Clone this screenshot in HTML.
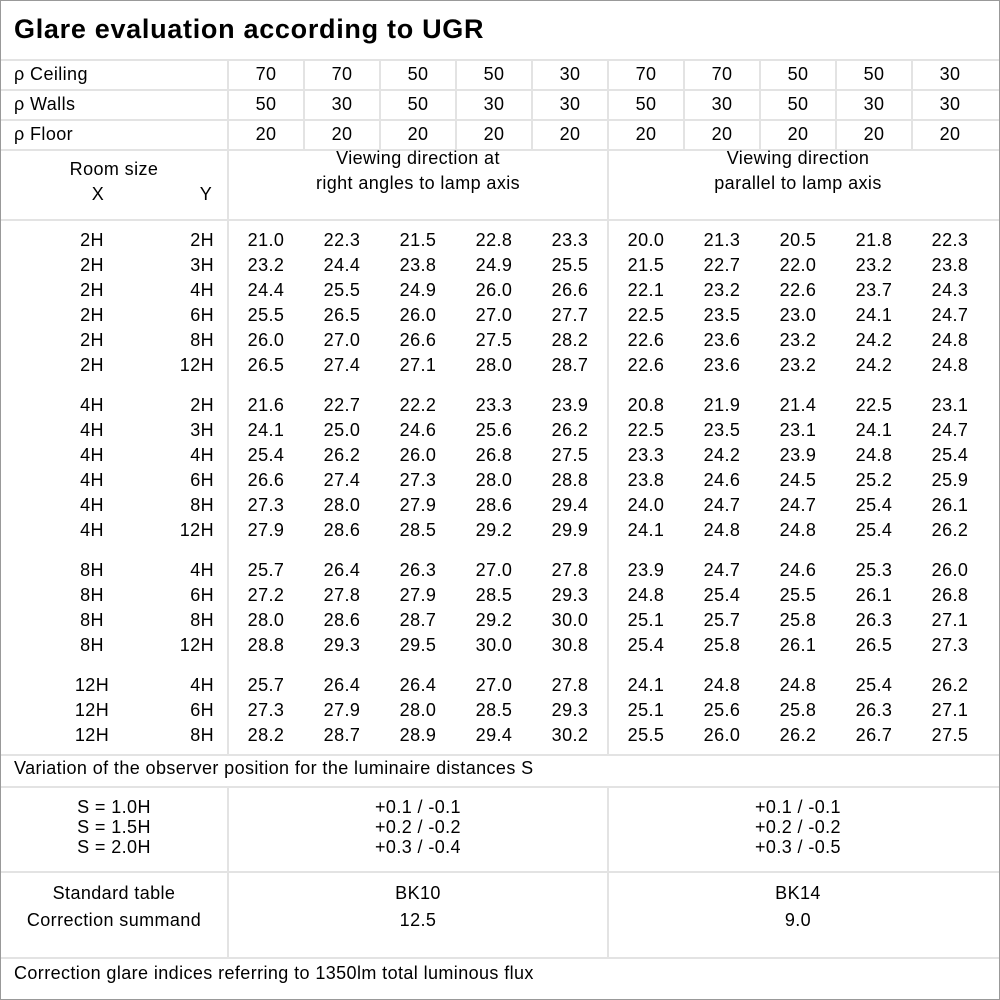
<!DOCTYPE html>
<html><head><meta charset="utf-8"><style>
body{margin:0;background:#fff}
#c{position:relative;width:1000px;height:1000px;overflow:hidden;font-family:"Liberation Sans","DejaVu Sans",sans-serif;font-size:18px;color:#000;background:#fff;letter-spacing:0.4px}
.b{position:absolute;left:0;top:0;width:998px;height:998px;border:1px solid #999}
.h{position:absolute;left:1px;width:998px;height:2px;background:#e3e3e3}
.v{position:absolute;width:2px;background:#e3e3e3}
.r{position:absolute;left:0;height:24px;line-height:24px;display:flex;white-space:nowrap}
.x{width:104px;margin-left:40px;text-align:center}
.y{width:70px;text-align:right;margin-right:14px}
.n{width:76px;text-align:center}
.l{position:absolute;left:14px;height:24px;line-height:24px;white-space:nowrap}
.t{position:absolute;text-align:center;line-height:20px;white-space:nowrap}
</style></head><body><div id="c">
<div class="b"></div>
<div style="position:absolute;left:14px;top:12px;font-size:27px;font-weight:bold;line-height:34px;letter-spacing:0.7px">Glare evaluation according to UGR</div>
<div class="h" style="top:59px"></div><div class="h" style="top:89px"></div><div class="h" style="top:119px"></div><div class="h" style="top:149px"></div><div class="h" style="top:219px"></div><div class="h" style="top:754px"></div><div class="h" style="top:786px"></div><div class="h" style="top:871px"></div><div class="h" style="top:957px"></div>
<div class="v" style="left:227px;top:60px;height:695px"></div><div class="v" style="left:227px;top:788px;height:170px"></div>
<div class="v" style="left:607px;top:60px;height:695px"></div><div class="v" style="left:607px;top:788px;height:170px"></div>
<div class="v" style="left:303px;top:60px;height:90px"></div><div class="v" style="left:379px;top:60px;height:90px"></div><div class="v" style="left:455px;top:60px;height:90px"></div><div class="v" style="left:531px;top:60px;height:90px"></div><div class="v" style="left:683px;top:60px;height:90px"></div><div class="v" style="left:759px;top:60px;height:90px"></div><div class="v" style="left:835px;top:60px;height:90px"></div><div class="v" style="left:911px;top:60px;height:90px"></div>
<div class="l" style="top:62px">ρ Ceiling</div><div class="r" style="top:62px;left:228px"><div class="n">70</div><div class="n">70</div><div class="n">50</div><div class="n">50</div><div class="n">30</div><div class="n">70</div><div class="n">70</div><div class="n">50</div><div class="n">50</div><div class="n">30</div></div>
<div class="l" style="top:92px">ρ Walls</div><div class="r" style="top:92px;left:228px"><div class="n">50</div><div class="n">30</div><div class="n">50</div><div class="n">30</div><div class="n">30</div><div class="n">50</div><div class="n">30</div><div class="n">50</div><div class="n">30</div><div class="n">30</div></div>
<div class="l" style="top:122px">ρ Floor</div><div class="r" style="top:122px;left:228px"><div class="n">20</div><div class="n">20</div><div class="n">20</div><div class="n">20</div><div class="n">20</div><div class="n">20</div><div class="n">20</div><div class="n">20</div><div class="n">20</div><div class="n">20</div></div>
<div class="t" style="left:0;width:228px;top:159px">Room size</div>
<div class="t" style="left:58px;width:80px;top:184px">X</div><div class="t" style="left:166px;width:80px;top:184px">Y</div>
<div class="t" style="left:228px;width:380px;top:146px;line-height:25px">Viewing direction at<br>right angles to lamp axis</div>
<div class="t" style="left:608px;width:380px;top:146px;line-height:25px">Viewing direction<br>parallel to lamp axis</div>

<div class="r" style="top:228px"><div class="x">2H</div><div class="y">2H</div><div class="n">21.0</div><div class="n">22.3</div><div class="n">21.5</div><div class="n">22.8</div><div class="n">23.3</div><div class="n">20.0</div><div class="n">21.3</div><div class="n">20.5</div><div class="n">21.8</div><div class="n">22.3</div></div>
<div class="r" style="top:253px"><div class="x">2H</div><div class="y">3H</div><div class="n">23.2</div><div class="n">24.4</div><div class="n">23.8</div><div class="n">24.9</div><div class="n">25.5</div><div class="n">21.5</div><div class="n">22.7</div><div class="n">22.0</div><div class="n">23.2</div><div class="n">23.8</div></div>
<div class="r" style="top:278px"><div class="x">2H</div><div class="y">4H</div><div class="n">24.4</div><div class="n">25.5</div><div class="n">24.9</div><div class="n">26.0</div><div class="n">26.6</div><div class="n">22.1</div><div class="n">23.2</div><div class="n">22.6</div><div class="n">23.7</div><div class="n">24.3</div></div>
<div class="r" style="top:303px"><div class="x">2H</div><div class="y">6H</div><div class="n">25.5</div><div class="n">26.5</div><div class="n">26.0</div><div class="n">27.0</div><div class="n">27.7</div><div class="n">22.5</div><div class="n">23.5</div><div class="n">23.0</div><div class="n">24.1</div><div class="n">24.7</div></div>
<div class="r" style="top:328px"><div class="x">2H</div><div class="y">8H</div><div class="n">26.0</div><div class="n">27.0</div><div class="n">26.6</div><div class="n">27.5</div><div class="n">28.2</div><div class="n">22.6</div><div class="n">23.6</div><div class="n">23.2</div><div class="n">24.2</div><div class="n">24.8</div></div>
<div class="r" style="top:353px"><div class="x">2H</div><div class="y">12H</div><div class="n">26.5</div><div class="n">27.4</div><div class="n">27.1</div><div class="n">28.0</div><div class="n">28.7</div><div class="n">22.6</div><div class="n">23.6</div><div class="n">23.2</div><div class="n">24.2</div><div class="n">24.8</div></div>

<div class="r" style="top:393px"><div class="x">4H</div><div class="y">2H</div><div class="n">21.6</div><div class="n">22.7</div><div class="n">22.2</div><div class="n">23.3</div><div class="n">23.9</div><div class="n">20.8</div><div class="n">21.9</div><div class="n">21.4</div><div class="n">22.5</div><div class="n">23.1</div></div>
<div class="r" style="top:418px"><div class="x">4H</div><div class="y">3H</div><div class="n">24.1</div><div class="n">25.0</div><div class="n">24.6</div><div class="n">25.6</div><div class="n">26.2</div><div class="n">22.5</div><div class="n">23.5</div><div class="n">23.1</div><div class="n">24.1</div><div class="n">24.7</div></div>
<div class="r" style="top:443px"><div class="x">4H</div><div class="y">4H</div><div class="n">25.4</div><div class="n">26.2</div><div class="n">26.0</div><div class="n">26.8</div><div class="n">27.5</div><div class="n">23.3</div><div class="n">24.2</div><div class="n">23.9</div><div class="n">24.8</div><div class="n">25.4</div></div>
<div class="r" style="top:468px"><div class="x">4H</div><div class="y">6H</div><div class="n">26.6</div><div class="n">27.4</div><div class="n">27.3</div><div class="n">28.0</div><div class="n">28.8</div><div class="n">23.8</div><div class="n">24.6</div><div class="n">24.5</div><div class="n">25.2</div><div class="n">25.9</div></div>
<div class="r" style="top:493px"><div class="x">4H</div><div class="y">8H</div><div class="n">27.3</div><div class="n">28.0</div><div class="n">27.9</div><div class="n">28.6</div><div class="n">29.4</div><div class="n">24.0</div><div class="n">24.7</div><div class="n">24.7</div><div class="n">25.4</div><div class="n">26.1</div></div>
<div class="r" style="top:518px"><div class="x">4H</div><div class="y">12H</div><div class="n">27.9</div><div class="n">28.6</div><div class="n">28.5</div><div class="n">29.2</div><div class="n">29.9</div><div class="n">24.1</div><div class="n">24.8</div><div class="n">24.8</div><div class="n">25.4</div><div class="n">26.2</div></div>

<div class="r" style="top:558px"><div class="x">8H</div><div class="y">4H</div><div class="n">25.7</div><div class="n">26.4</div><div class="n">26.3</div><div class="n">27.0</div><div class="n">27.8</div><div class="n">23.9</div><div class="n">24.7</div><div class="n">24.6</div><div class="n">25.3</div><div class="n">26.0</div></div>
<div class="r" style="top:583px"><div class="x">8H</div><div class="y">6H</div><div class="n">27.2</div><div class="n">27.8</div><div class="n">27.9</div><div class="n">28.5</div><div class="n">29.3</div><div class="n">24.8</div><div class="n">25.4</div><div class="n">25.5</div><div class="n">26.1</div><div class="n">26.8</div></div>
<div class="r" style="top:608px"><div class="x">8H</div><div class="y">8H</div><div class="n">28.0</div><div class="n">28.6</div><div class="n">28.7</div><div class="n">29.2</div><div class="n">30.0</div><div class="n">25.1</div><div class="n">25.7</div><div class="n">25.8</div><div class="n">26.3</div><div class="n">27.1</div></div>
<div class="r" style="top:633px"><div class="x">8H</div><div class="y">12H</div><div class="n">28.8</div><div class="n">29.3</div><div class="n">29.5</div><div class="n">30.0</div><div class="n">30.8</div><div class="n">25.4</div><div class="n">25.8</div><div class="n">26.1</div><div class="n">26.5</div><div class="n">27.3</div></div>

<div class="r" style="top:673px"><div class="x">12H</div><div class="y">4H</div><div class="n">25.7</div><div class="n">26.4</div><div class="n">26.4</div><div class="n">27.0</div><div class="n">27.8</div><div class="n">24.1</div><div class="n">24.8</div><div class="n">24.8</div><div class="n">25.4</div><div class="n">26.2</div></div>
<div class="r" style="top:698px"><div class="x">12H</div><div class="y">6H</div><div class="n">27.3</div><div class="n">27.9</div><div class="n">28.0</div><div class="n">28.5</div><div class="n">29.3</div><div class="n">25.1</div><div class="n">25.6</div><div class="n">25.8</div><div class="n">26.3</div><div class="n">27.1</div></div>
<div class="r" style="top:723px"><div class="x">12H</div><div class="y">8H</div><div class="n">28.2</div><div class="n">28.7</div><div class="n">28.9</div><div class="n">29.4</div><div class="n">30.2</div><div class="n">25.5</div><div class="n">26.0</div><div class="n">26.2</div><div class="n">26.7</div><div class="n">27.5</div></div>

<div class="l" style="top:756px">Variation of the observer position for the luminaire distances S</div>
<div class="t" style="left:0;width:228px;top:797px">S = 1.0H<br>S = 1.5H<br>S = 2.0H</div>
<div class="t" style="left:228px;width:380px;top:797px">+0.1 / -0.1<br>+0.2 / -0.2<br>+0.3 / -0.4</div>
<div class="t" style="left:608px;width:380px;top:797px">+0.1 / -0.1<br>+0.2 / -0.2<br>+0.3 / -0.5</div>
<div class="t" style="left:0;width:228px;top:880px;line-height:27px">Standard table<br>Correction summand</div>
<div class="t" style="left:228px;width:380px;top:880px;line-height:27px">BK10<br>12.5</div>
<div class="t" style="left:608px;width:380px;top:880px;line-height:27px">BK14<br>9.0</div>
<div class="l" style="top:961px">Correction glare indices referring to 1350lm total luminous flux</div>
</div></body></html>
